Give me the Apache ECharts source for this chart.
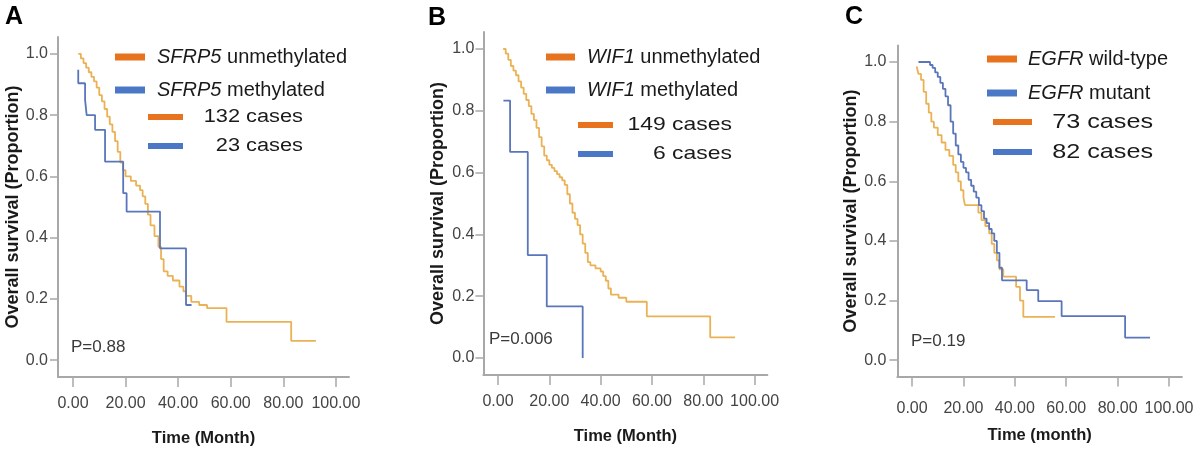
<!DOCTYPE html>
<html><head><meta charset="utf-8">
<script src="https://cdn.jsdelivr.net/npm/echarts@6/dist/echarts.min.js"></script>
<style>html,body{margin:0;padding:0;background:#fff}#c{width:1200px;height:452px}</style>
</head><body><div id="c"></div>
<script>
// ---- data ----
const xTicks = [0, 20, 40, 60, 80, 100];
const yTicks = [0, 0.2, 0.4, 0.6, 0.8, 1.0];
const panelLetters = ['A', 'B', 'C'];
const xTitles = ['Time (Month)', 'Time (Month)', 'Time (month)'];
const yTitle = 'Overall survival (Proportion)';
const genes = ['SFRP5', 'WIF1', 'EGFR'];
const groupLabels = [['unmethylated', 'methylated'], ['unmethylated', 'methylated'], ['wild-type', 'mutant']];
const caseCounts = [[132, 23], [149, 6], [73, 82]];
const pValues = ['P=0.88', 'P=0.006', 'P=0.19'];
// Kaplan-Meier steps: [month, proportion]
const sfrp5Unmeth = [[2,1.0],[3,0.985],[4,0.97],[5,0.955],[6,0.94],[7,0.925],[8,0.91],[9,0.89],[10,0.865],[11,0.845],[12,0.82],[13,0.795],[14,0.77],[15,0.745],[16,0.715],[17,0.68],[18,0.645],[19,0.62],[20,0.6],[22,0.585],[24,0.57],[25.5,0.555],[26.5,0.535],[27.5,0.51],[28.5,0.475],[29.5,0.44],[31,0.405],[32.5,0.37],[33.5,0.33],[34.5,0.29],[36,0.275],[38,0.26],[40.5,0.24],[42,0.225],[43,0.21],[45,0.19],[48,0.18],[51,0.17],[58.4,0.125],[83,0.063],[92.4,0.063]];
const sfrp5Meth = [[2,0.948],[2,0.904],[4.6,0.85],[5.2,0.8],[8.4,0.752],[12.2,0.648],[19.1,0.545],[20.4,0.485],[33.1,0.365],[43,0.18],[45.1,0.18]];
const wif1Unmeth = [[2,1.0],[3,0.985],[4,0.965],[5,0.945],[6,0.93],[7,0.915],[8,0.895],[9,0.875],[10,0.855],[11,0.835],[12,0.815],[13,0.79],[14,0.77],[15,0.745],[16,0.715],[17,0.685],[18,0.655],[19,0.64],[20,0.625],[21,0.615],[22,0.605],[23,0.595],[24,0.585],[25,0.575],[26,0.56],[27,0.53],[28,0.5],[29,0.47],[30,0.45],[31,0.43],[32,0.4],[33,0.37],[34,0.34],[35,0.31],[36,0.3],[38,0.29],[40,0.28],[41,0.265],[42,0.25],[43,0.225],[44,0.205],[47,0.195],[50,0.182],[58,0.135],[82.7,0.067],[92.4,0.067]];
const wif1Meth = [[2.1,0.833],[4.7,0.667],[11.6,0.333],[19,0.167],[33,0]];
const egfrWild = [[1.8,0.985],[2.5,0.96],[3.5,0.94],[4.5,0.9],[5.5,0.86],[6.5,0.83],[7.5,0.8],[8.5,0.78],[10,0.755],[11.5,0.73],[13,0.705],[14.5,0.685],[16,0.655],[17,0.63],[18,0.6],[19,0.57],[20,0.545],[20.6,0.52],[25.8,0.495],[27,0.47],[28.5,0.45],[30,0.425],[31,0.39],[32,0.36],[33,0.335],[34,0.305],[35.5,0.28],[40.5,0.246],[42,0.2],[43.3,0.145],[55.6,0.145]];
const egfrMut = [[2.5,1.0],[7,0.99],[8,0.98],[9,0.965],[10,0.95],[11,0.93],[12,0.91],[13,0.885],[14,0.855],[15,0.8],[16,0.76],[17,0.72],[18,0.69],[19,0.665],[20,0.645],[21,0.63],[22,0.605],[23,0.585],[24,0.565],[25,0.545],[26,0.52],[27,0.5],[28,0.475],[29,0.46],[30,0.44],[31,0.425],[32,0.4],[33,0.36],[34,0.31],[35,0.268],[44.6,0.235],[49.1,0.198],[58.2,0.148],[82.9,0.076],[92.6,0.076]];
const seriesData = [[sfrp5Unmeth, sfrp5Meth], [wif1Unmeth, wif1Meth], [egfrWild, egfrMut]];

// ---- layout / style ----
const FONT = '"Liberation Sans", Arial, sans-serif';
const curveColors = ['#EBB255', '#5A76BA'];
const legendColors = ['#E8731E', '#4A78C6'];
const layout = [
  {grid:{left:58, top:37, width:291, height:340}, letter:[5,17.5], labMargin:19, yLabMargin:10, nameGapX:53, nameGapY:36,
   s1:[115,145,157], sy:[57,90], c:[148,183,303], cy:[117,146], cFont:18, cScale:1.21, p:[71,347]},
  {grid:{left:483.4, top:32, width:284, height:343}, letter:[428,18.5], labMargin:19, yLabMargin:9, nameGapX:53, nameGapY:36,
   s1:[546,575,587], sy:[57,90], c:[578,613,732], cy:[125,154], cFont:18.5, cScale:1.24, p:[489,339]},
  {grid:{left:897.4, top:45.6, width:284.5, height:331}, letter:[845,17.5], labMargin:24, yLabMargin:11, nameGapX:50, nameGapY:36,
   s1:[987,1017,1028], sy:[59,93], c:[993,1032,1153], cy:[122,152], cFont:21, cScale:1.2, p:[911,341]}
];

const grids = [], xAxes = [], yAxes = [], series = [], graphics = [];
const axisColor = '#A8A8A8';
layout.forEach((L, i) => {
  grids.push(Object.assign({containLabel:false}, L.grid));
  xAxes.push({
    type:'value', gridIndex:i, min:-5.7, max:105,
    name: xTitles[i], nameLocation:'middle', nameGap:L.nameGapX,
    nameTextStyle:{fontFamily:FONT, fontWeight:'bold', fontSize:16.5, color:'#1a1a1a'},
    axisLine:{show:true, onZero:false, lineStyle:{color:axisColor, width:2}},
    axisTick:{show:true, length:10, customValues:xTicks, lineStyle:{color:axisColor, width:1.5}},
    axisLabel:{customValues:xTicks, margin:L.labMargin, fontFamily:FONT, fontSize:16, color:'#444',
      formatter:v => v.toFixed(2)},
    splitLine:{show:false}
  });
  yAxes.push({
    type:'value', gridIndex:i, min:-0.055, max:1.055,
    name: yTitle, nameLocation:'middle', nameGap:L.nameGapY,
    nameTextStyle:{fontFamily:FONT, fontWeight:'bold', fontSize:18, color:'#1a1a1a'},
    axisLine:{show:true, onZero:false, lineStyle:{color:axisColor, width:2}},
    axisTick:{show:true, length:8, customValues:yTicks, lineStyle:{color:axisColor, width:1.5}},
    axisLabel:{customValues:yTicks, margin:L.yLabMargin, fontFamily:FONT, fontSize:16, color:'#444',
      formatter:v => v.toFixed(1)},
    splitLine:{show:false}
  });
  seriesData[i].forEach((d, k) => {
    series.push({
      type:'line', xAxisIndex:i, yAxisIndex:i, data:d, step:'end', symbol:'none',
      name: genes[i] + ' ' + groupLabels[i][k],
      lineStyle:{color:curveColors[k], width:1.8}, silent:true, animation:false
    });
  });
  // panel letter
  graphics.push({type:'text', x:L.letter[0], y:L.letter[1], style:{text:panelLetters[i], fontFamily:FONT, fontWeight:'bold', fontSize:25, fill:'#000', verticalAlign:'middle'}});
  // legend entries
  for (let k = 0; k < 2; k++) {
    graphics.push({type:'line', shape:{x1:L.s1[0], y1:L.sy[k], x2:L.s1[1], y2:L.sy[k]}, style:{stroke:legendColors[k], lineWidth:7}});
    graphics.push({type:'text', x:L.s1[2], y:L.sy[k], style:{
      text:'{g|' + genes[i] + '} ' + groupLabels[i][k], fontFamily:FONT, fontSize:20, fill:'#1a1a1a', verticalAlign:'middle',
      rich:{g:{fontFamily:FONT, fontSize:20, fontStyle:'italic', fill:'#1a1a1a'}}}});
    graphics.push({type:'line', shape:{x1:L.c[0], y1:L.cy[k], x2:L.c[1], y2:L.cy[k]}, style:{stroke:legendColors[k], lineWidth:6}});
    graphics.push({type:'text', x:L.c[2], y:L.cy[k], scaleX:L.cScale, style:{
      text: caseCounts[i][k] + ' cases', fontFamily:FONT, fontSize:L.cFont, fill:'#1a1a1a', align:'right', verticalAlign:'middle'}});
  }
  graphics.push({type:'text', x:L.p[0], y:L.p[1], style:{text:pValues[i], fontFamily:FONT, fontSize:17, fill:'#3a3a3a', verticalAlign:'middle'}});
});

const chart = echarts.init(document.getElementById('c'), null, {renderer:'canvas'});
chart.setOption({
  animation:false, backgroundColor:'#fff',
  grid:grids, xAxis:xAxes, yAxis:yAxes, series:series, graphic:graphics
});
</script></body></html>
